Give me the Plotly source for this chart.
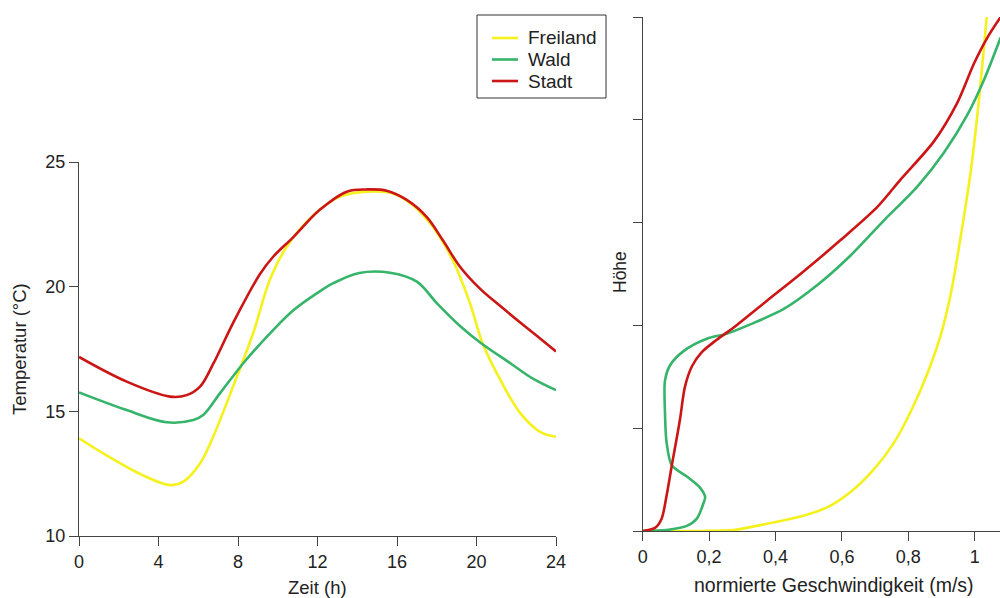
import plotly.graph_objects as go

# ---------- Data: left panel (temperature over the day) ----------
hours_stadt = [0, 2.4, 4.58, 5.42, 6.09, 6.75, 7.75, 9.1, 9.77, 10.8, 12.1, 13.47, 14.47, 15.48, 16.49, 17.49, 18.3, 19.17, 20.2, 21.2, 22.2, 23.2, 24]
temp_stadt = [17.18, 16.19, 15.59, 15.65, 15.99, 16.9, 18.54, 20.5, 21.2, 22.0, 23.07, 23.81, 23.9, 23.85, 23.48, 22.8, 21.87, 20.8, 19.9, 19.22, 18.56, 17.92, 17.4]

hours_wald = [0, 2.4, 4.4, 5.75, 6.25, 7.1, 8.4, 9.77, 10.8, 11.96, 12.8, 14.1, 15.65, 17.0, 18.0, 19.2, 20.2, 21.7, 22.86, 24]
temp_wald = [15.76, 15.05, 14.56, 14.65, 14.85, 15.73, 17.06, 18.26, 19.06, 19.73, 20.14, 20.55, 20.56, 20.2, 19.34, 18.4, 17.75, 16.93, 16.3, 15.85]

hours_freiland = [0, 1.5, 3.2, 4.58, 5.23, 6.09, 6.75, 7.75, 8.76, 9.6, 10.45, 11.8, 13.1, 14.47, 15.8, 16.8, 17.8, 18.8, 19.67, 20.3, 21.2, 22.2, 23.2, 24]
temp_freiland = [13.92, 13.18, 12.44, 12.04, 12.17, 12.91, 13.98, 15.99, 18.13, 20.27, 21.6, 22.87, 23.6, 23.81, 23.74, 23.27, 22.4, 21.07, 19.34, 17.74, 16.26, 14.93, 14.18, 13.98]

# ---------- Data: right panel (wind profile) ----------
speed_stadt = [0, 0.037, 0.057, 0.072, 0.087, 0.112, 0.127, 0.148, 0.178, 0.223, 0.274, 0.374, 0.475, 0.596, 0.706, 0.777, 0.877, 0.948, 0.998, 1.038, 1.078]
height_stadt = [0, 0.03, 0.12, 0.345, 0.625, 1.08, 1.40, 1.60, 1.74, 1.86, 1.98, 2.24, 2.50, 2.83, 3.15, 3.42, 3.79, 4.17, 4.55, 4.80, 5.0]

speed_wald = [0, 0.072, 0.133, 0.163, 0.183, 0.188, 0.173, 0.133, 0.0875, 0.072, 0.067, 0.067, 0.082, 0.123, 0.193, 0.254, 0.324, 0.425, 0.525, 0.626, 0.726, 0.827, 0.907, 0.978, 1.028, 1.078]
height_wald = [0, 0.01, 0.05, 0.12, 0.27, 0.33, 0.42, 0.53, 0.64, 0.86, 1.16, 1.46, 1.61, 1.75, 1.87, 1.92, 2.01, 2.16, 2.39, 2.68, 3.02, 3.35, 3.68, 4.05, 4.39, 4.80]

speed_freiland = [0, 0.173, 0.274, 0.374, 0.475, 0.555, 0.626, 0.696, 0.757, 0.807, 0.857, 0.897, 0.928, 0.958, 0.988, 1.008, 1.023, 1.036]
height_freiland = [0, 0, 0.01, 0.07, 0.14, 0.23, 0.38, 0.60, 0.86, 1.16, 1.53, 1.90, 2.31, 2.87, 3.50, 4.05, 4.54, 5.0]

# Tick labels
left_x_ticks = [0, 4, 8, 12, 16, 20, 24]
left_y_ticks = [10, 15, 20, 25]
right_x_ticks = [0, 0.2, 0.4, 0.6, 0.8, 1]
right_x_labels = ["0", "0,2", "0,4", "0,6", "0,8", "1"]
right_y_ticks = [0, 1, 2, 3, 4, 5]

series_names = ["Freiland", "Wald", "Stadt"]
colors = {"Freiland": "#f4f11c", "Wald": "#35b46a", "Stadt": "#cc1515"}

FONT = "Arial, 'Liberation Sans', sans-serif"
W, H = 1000, 598
TXT = "#222"
LW = 2.6

fig = go.Figure()

left = {"Freiland": (hours_freiland, temp_freiland),
        "Wald": (hours_wald, temp_wald),
        "Stadt": (hours_stadt, temp_stadt)}
right = {"Freiland": (speed_freiland, height_freiland),
         "Wald": (speed_wald, height_wald),
         "Stadt": (speed_stadt, height_stadt)}

for name in series_names:
    x, y = left[name]
    fig.add_trace(go.Scatter(x=x, y=y, mode="lines", name=name, legendgroup=name,
                             line=dict(color=colors[name], width=LW, shape="spline", smoothing=1.0),
                             xaxis="x", yaxis="y", showlegend=False))
for name in series_names:
    x, y = right[name]
    fig.add_trace(go.Scatter(x=x, y=y, mode="lines", name=name, legendgroup=name,
                             line=dict(color=colors[name], width=LW, shape="spline", smoothing=0.8),
                             xaxis="x2", yaxis="y2", showlegend=False))

axis_common = dict(showgrid=False, zeroline=False, showline=True, linecolor="#444", linewidth=1,
                   ticks="outside", ticklen=9, tickcolor="#444", tickwidth=1, automargin=False,
                   tickfont=dict(family=FONT, size=18, color=TXT))

# ---- legend box (drawn as a key in paper space) ----
LEG_X0, LEG_X1, LEG_Y0, LEG_Y1 = 477, 606, 15, 98
LEG_ROW0, LEG_ROWSTEP = 38, 21.5
shapes = [dict(type="rect", xref="paper", yref="paper",
               x0=LEG_X0 / W, x1=LEG_X1 / W, y0=1 - LEG_Y1 / H, y1=1 - LEG_Y0 / H,
               line=dict(color="#333", width=1), fillcolor="white", layer="above")]
annotations = []
for i, name in enumerate(series_names):
    yc = 1 - (LEG_ROW0 + i * LEG_ROWSTEP) / H
    shapes.append(dict(type="line", xref="paper", yref="paper", x0=492 / W, x1=518 / W, y0=yc, y1=yc,
                       line=dict(color=colors[name], width=LW), layer="above"))
    annotations.append(dict(text=name, x=526 / W, y=yc, xref="paper", yref="paper", showarrow=False,
                            xanchor="left", yanchor="middle", font=dict(family=FONT, size=19, color=TXT)))

annotations += [
    dict(text="Zeit (h)", x=317.5 / W, y=1 - 587 / H, xref="paper", yref="paper",
         showarrow=False, font=dict(family=FONT, size=18.5, color=TXT), xanchor="center", yanchor="middle"),
    dict(text="Temperatur (°C)", x=19 / W, y=1 - 349 / H, xref="paper", yref="paper", textangle=-90,
         showarrow=False, font=dict(family=FONT, size=18.5, color=TXT), xanchor="center", yanchor="middle"),
    dict(text="normierte Geschwindigkeit (m/s)", x=834 / W, y=1 - 585 / H, xref="paper", yref="paper",
         showarrow=False, font=dict(family=FONT, size=19.5, color=TXT), xanchor="center", yanchor="middle"),
    dict(text="Höhe", x=620 / W, y=1 - 272 / H, xref="paper", yref="paper", textangle=-90,
         showarrow=False, font=dict(family=FONT, size=17.5, color=TXT), xanchor="center", yanchor="middle"),
]

fig.update_layout(
    width=W, height=H,
    margin=dict(l=0, r=0, t=0, b=0, pad=0, autoexpand=False),
    paper_bgcolor="white", plot_bgcolor="white",
    xaxis=dict(domain=[79 / W, 556 / W], range=[0, 24], tickvals=left_x_ticks, anchor="y", **axis_common),
    yaxis=dict(domain=[(H - 536) / H, (H - 162) / H], range=[10, 25], tickvals=left_y_ticks, anchor="x", **axis_common),
    xaxis2=dict(domain=[642.7 / W, 1.0], range=[0, 1.076], tickvals=right_x_ticks, ticktext=right_x_labels,
                anchor="y2", **axis_common),
    yaxis2=dict(domain=[(H - 531) / H, (H - 17) / H], range=[0, 5], tickvals=right_y_ticks, showticklabels=False,
                anchor="x2", **axis_common),
    showlegend=False,
    shapes=shapes,
    annotations=annotations,
)

fig.write_html("out.html", config={"displayModeBar": False},
               post_script="document.body.style.margin='0';document.body.style.overflow='hidden';")
